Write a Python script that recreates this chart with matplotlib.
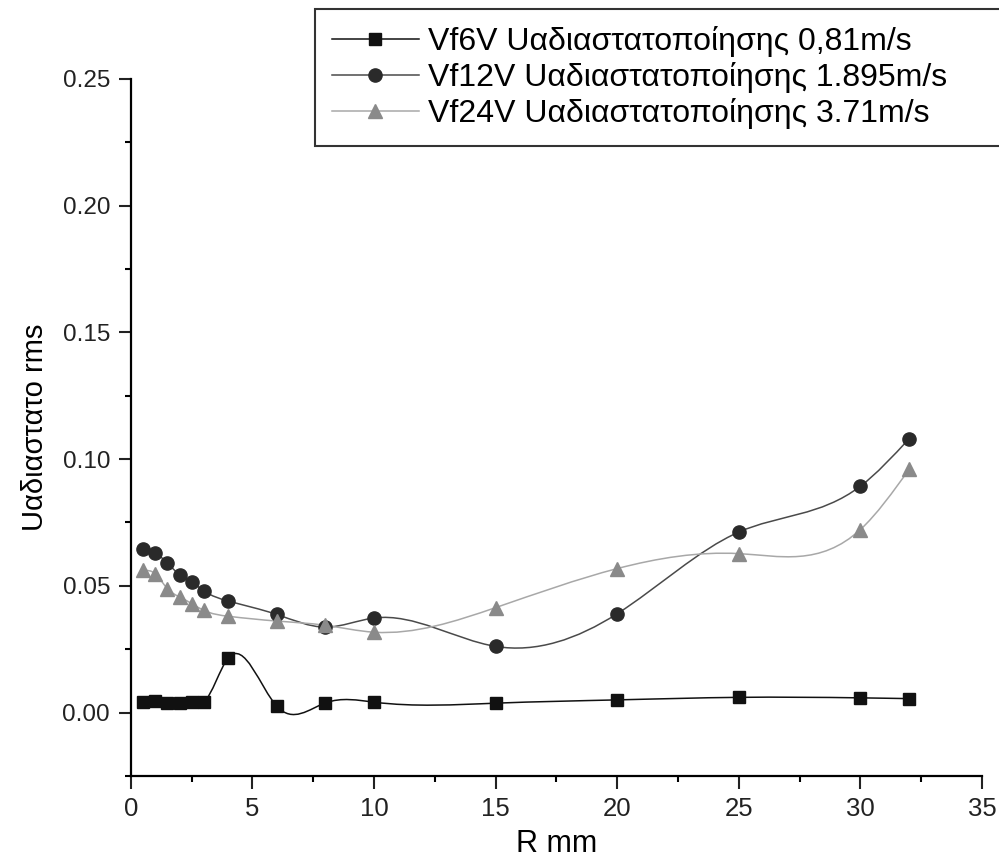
import numpy as np
import matplotlib
matplotlib.use("Agg")
import matplotlib.pyplot as plt
from matplotlib.path import Path
from matplotlib.patches import PathPatch
from matplotlib.ticker import MultipleLocator, FormatStrFormatter

plt.rcParams['font.family'] = ['Liberation Sans', 'DejaVu Sans']

# radial positions (mm)
r_mm = [0.5, 1, 1.5, 2, 2.5, 3, 4, 6, 8, 10, 15, 20, 25, 30, 32]

# rms of the dimensionless velocity for each fan voltage
vf6 = [0.0040, 0.0045, 0.0038, 0.0038, 0.0040, 0.0042, 0.0215, 0.0025,
       0.0038, 0.0041, 0.0037, 0.0050, 0.0060, 0.0058, 0.0055]
vf12 = [0.0647, 0.0630, 0.0590, 0.0544, 0.0515, 0.0480, 0.0440, 0.0387,
        0.0337, 0.0373, 0.0261, 0.0390, 0.0712, 0.0893, 0.1080]
vf24 = [0.0561, 0.0548, 0.0489, 0.0456, 0.0430, 0.0403, 0.0380, 0.0361,
        0.0344, 0.0317, 0.0414, 0.0568, 0.0627, 0.0722, 0.0959]

labels = ['Vf6V Uαδιαστατοποίησης 0,81m/s',
          'Vf12V Uαδιαστατοποίησης 1.895m/s',
          'Vf24V Uαδιαστατοποίησης 3.71m/s']


def spline_path(x, y):
    # natural cubic spline through the points, written as bezier segments
    x = np.asarray(x, float)
    y = np.asarray(y, float)
    n = len(x)
    h = np.diff(x)
    A = np.zeros((n, n))
    b = np.zeros(n)
    A[0, 0] = A[-1, -1] = 1
    for i in range(1, n - 1):
        A[i, i - 1] = h[i - 1]
        A[i, i] = 2 * (h[i - 1] + h[i])
        A[i, i + 1] = h[i]
        b[i] = 6 * ((y[i + 1] - y[i]) / h[i] - (y[i] - y[i - 1]) / h[i - 1])
    M = np.linalg.solve(A, b)
    d = np.zeros(n)
    d[:-1] = np.diff(y) / h - h * (2 * M[:-1] + M[1:]) / 6
    d[-1] = (y[-1] - y[-2]) / h[-1] + h[-1] * (M[-2] + 2 * M[-1]) / 6
    verts = [(x[0], y[0])]
    codes = [Path.MOVETO]
    for i in range(n - 1):
        verts += [(x[i] + h[i] / 3, y[i] + d[i] * h[i] / 3),
                  (x[i + 1] - h[i] / 3, y[i + 1] - d[i + 1] * h[i] / 3),
                  (x[i + 1], y[i + 1])]
        codes += [Path.CURVE4] * 3
    return Path(verts, codes)


fig = plt.figure(figsize=(9.99, 8.66), dpi=100)
ax = fig.add_axes([0.131, 0.104, 0.852, 0.805])

series = [
    (vf6, 's', '#111111', '#111111', 8.5),
    (vf12, 'o', '#2a2a2a', '#4a4a4a', 9.5),
    (vf24, '^', '#8a8a8a', '#a8a8a8', 9.5),
]
for (vals, mk, mc, lc, ms), lab in zip(series, labels):
    ax.add_patch(PathPatch(spline_path(r_mm, vals), fill=False,
                           edgecolor=lc, lw=1.1))
    ax.plot(r_mm, vals, ls='none', marker=mk, ms=ms, color=mc,
            markeredgecolor=mc)
    # legend entry: line with the marker in the middle
    ax.plot([], [], color=lc, lw=1.1, marker=mk, ms=ms, mfc=mc, mec=mc,
            label=lab)

ax.set_xlim(0, 35)
ax.set_ylim(-0.025, 0.25)
ax.xaxis.set_major_locator(MultipleLocator(5))
ax.xaxis.set_minor_locator(MultipleLocator(2.5))
ax.yaxis.set_major_locator(MultipleLocator(0.05))
ax.yaxis.set_minor_locator(MultipleLocator(0.025))
ax.yaxis.set_major_formatter(FormatStrFormatter('%.2f'))

ax.spines['top'].set_visible(False)
ax.spines['right'].set_visible(False)
for s in ('left', 'bottom'):
    ax.spines[s].set_linewidth(1.6)
ax.tick_params(which='major', direction='out', length=9, width=1.5,
               pad=6, colors='#222222')
ax.tick_params(which='minor', direction='out', length=4.5, width=1.5)
ax.tick_params(axis='x', labelsize=18.5)
ax.tick_params(axis='y', labelsize=17.5)

ax.set_xlabel('R mm', fontsize=22, labelpad=6)
ax.set_ylabel('Uαδιαστατο rms', fontsize=21, labelpad=10)

# legend box runs off the right edge of the figure
leg = fig.legend(loc='upper left', bbox_to_anchor=(0.315, 0.0, 0.73, 0.99),
                 mode='expand', fontsize=23, frameon=True, fancybox=False,
                 handlelength=2.7, handletextpad=0.3, labelspacing=0.15,
                 borderpad=0.55, borderaxespad=0)
leg.get_frame().set_edgecolor('black')
leg.get_frame().set_linewidth(1.5)

fig.savefig('out.png', dpi=100)
